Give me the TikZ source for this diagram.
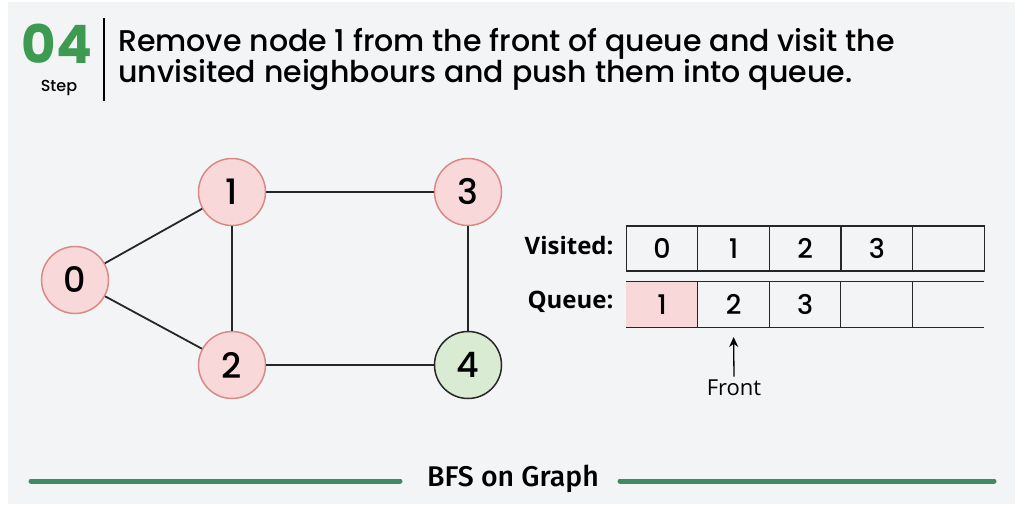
\documentclass[tikz,border=0pt]{standalone}
\usepackage{fontspec}
\setmainfont{Poppins}
\newfontfamily\pmed{Poppins Medium}
\newfontfamily\lab{Open Sans}
\newfontfamily\bfsfont{Fira Sans Medium}
\usetikzlibrary{arrows.meta}
\definecolor{bg}{HTML}{F3F4F6}
\definecolor{gfg}{HTML}{3D9A50}
\definecolor{pinkf}{HTML}{F8D8D8}
\definecolor{pinkd}{HTML}{D98A86}
\definecolor{greenf}{HTML}{D9ECD3}
\definecolor{lineg}{HTML}{3F8A62}
\tikzset{
  vtx/.style={circle,draw=pinkd,fill=pinkf,line width=1.5pt,minimum size=67pt,inner sep=0pt,font=\pmed\fontsize{35}{35}\selectfont},
  vdone/.style={vtx,draw=black!85,fill=greenf},
  edge/.style={line width=1.8pt,black!85},
  cell/.style={minimum width=71.6pt,minimum height=45pt,inner sep=0pt,font=\pmed\fontsize{27}{27}\selectfont},
  rowlab/.style={anchor=east,font=\lab\bfseries\fontsize{24}{24}\selectfont},
}
\begin{document}
\begin{tikzpicture}[x=1pt,y=-1pt]
\useasboundingbox (0,0) rectangle (1020,508);
\fill[white] (0,0) rectangle (1020,508);
\fill[bg] (8,2) rectangle (1015,504);
% header
\node[font=\bfseries\fontsize{53}{53}\selectfont,text=gfg,anchor=base,inner sep=0pt,text depth=0pt] (num) at (57,64) {04};
\node[font=\pmed\fontsize{16}{16}\selectfont,anchor=base,inner sep=0pt,text height=11pt] (stp) at (59,92) {Step};
\draw[line width=1.5pt] (104,18) -- (104,101);
\node[anchor=base west,inner sep=0pt,font=\pmed\fontsize{30}{30}\selectfont] (title1) at (118,52) {Remove node 1 from the front of queue and visit the};
\node[anchor=base west,inner sep=0pt,font=\pmed\fontsize{30}{30}\selectfont] (title2) at (118,83) {unvisited neighbours and push them into queue.};
% graph
\node[vtx] (n0) at (75,280) {0};
\node[vtx] (n1) at (232,192) {1};
\node[vtx] (n3) at (468,192) {3};
\node[vtx] (n2) at (232,365) {2};
\node[vdone] (n4) at (468,365) {4};
\draw[edge] (n0) -- (n1);
\draw[edge] (n0) -- (n2);
\draw[edge] (n1) -- (n3);
\draw[edge] (n1) -- (n2);
\draw[edge] (n3) -- (n4);
\draw[edge] (n2) -- (n4);
% visited
\foreach \i/\t in {0/0,1/1,2/2,3/3,4/{}} {
  \node[cell,draw=black!85,line width=1.2pt] (v\i) at (662+71.6*\i,248.5) {\t};
}
\node[rowlab] (vl) at (617,246) {Visited:};
% queue
\fill[pinkf] (626,282) rectangle (697.6,327);
\foreach \i/\t in {0/1,1/2,2/3,3/{},4/{}} {
  \node[cell] (q\i) at (662+71.6*\i,304.5) {\t};
}
\draw[line width=1.2pt,black!85] (q0.north west) -- (q4.north east);
\draw[line width=1.2pt,black!85] (q0.south west) -- (q4.south east);
\foreach \i in {1,2,3,4} { \draw[line width=1.2pt,black!85] (q\i.north west) -- (q\i.south west); }
\node[rowlab] (ql) at (617,302) {Queue:};
% front
\node[font=\lab\fontsize{22}{22}\selectfont] (front) at (734,388) {Front};
\draw[-{Stealth[length=10pt,width=9pt]},line width=1.3pt] (front.north) -- (q1.south |- 0,337);
% bottom
\node[font=\bfsfont\fontsize{28.5}{28.5}\selectfont] (bfs) at (513,479) {BFS on Graph};
\draw[lineg,line width=5pt,line cap=round] (31,481) -- (400,481);
\draw[lineg,line width=5pt,line cap=round] (620,481) -- (994,481);
\end{tikzpicture}
\end{document}
